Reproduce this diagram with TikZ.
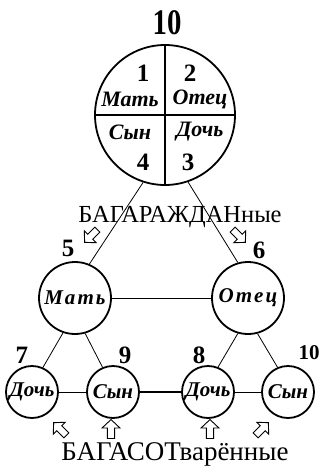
\documentclass[tikz,border=0pt]{standalone}
\usepackage{fontspec}
\setmainfont{Liberation Serif}
\begin{document}
\begin{tikzpicture}[x=1pt,y=-1pt,
  circ/.style={circle, draw, line width=1.8pt, inner sep=0pt},
  bigc/.style={circ, minimum size=140pt},
  midc/.style={circ, minimum size=72pt},
  smallc/.style={circ, minimum size=52pt},
  num/.style={font=\bfseries\fontsize{25}{25}\selectfont, inner sep=0pt},
  lab/.style={font=\bfseries\itshape\fontsize{22}{22}\selectfont, inner sep=0pt},
  slab/.style={font=\bfseries\itshape\fontsize{21}{21}\selectfont\addfontfeature{LetterSpace=10}, inner sep=0pt},
  captext/.style={font=\fontsize{24.5}{24.5}\selectfont, inner sep=0pt},
  link/.style={line width=0.8pt},
  hollow/.pic={\draw[line width=0.9pt, fill=white, line join=miter]
     (0,-9) -- (8.5,-1) -- (3.5,-1) -- (3.5,9) -- (-3.5,9) -- (-3.5,-1) -- (-8.5,-1) -- cycle;}
]
\useasboundingbox (0,0) rectangle (322,476);

% big circle
\node[bigc] (big) at (165,115) {};
\draw[line width=1.4pt] (big.north) -- (big.south);
\draw[line width=1.4pt] (big.west) -- (big.east);
\node[font=\bfseries\fontsize{36}{36}\selectfont, inner sep=0pt] (t10) at (167,23) {\scalebox{0.8}[1]{10}};
\node[num] (n1) at (143,73) {1};
\node[num] (n2) at (190,73) {2};
\node[lab] (m1) at (130,99) {Мать};
\node[lab] (o1) at (200,99) {Отец};
\node[lab] (s1) at (130,132) {Сын};
\node[lab] (d1) at (200,132) {Дочь};
\node[num] (n4) at (143,162) {4};
\node[num] (n3) at (188,162) {3};

% middle circles
\node[midc] (mat) at (75,298) {};
\node[slab] at (mat) {Мать};
\node[midc] (ot) at (248,298) {};
\node[slab] at (ot) {Отец};
\draw[link] (big.252) -- (mat.67);
\draw[link] (big.289) -- (ot.106);
\draw[link] (mat) -- (ot);
\node[captext] (bag1) at (180,217) {БАГАРАЖДАНные};
\node[num] (n5) at (68,248) {5};
\node[num] (n6) at (259,250) {6};
\pic[rotate=135] at (91,236) {hollow};
\pic[rotate=-135] at (239,236) {hollow};

% bottom circles
\node[smallc] (d2) at (32,392) {};
\node[slab, font=\bfseries\itshape\fontsize{21}{21}\selectfont] at (d2) {Дочь};
\node[smallc] (s2) at (113,392) {};
\node[slab, font=\bfseries\itshape\fontsize{21}{21}\selectfont] at (s2) {Сын};
\node[smallc] (d3) at (208,392) {};
\node[slab, font=\bfseries\itshape\fontsize{21}{21}\selectfont] at (d3) {Дочь};
\node[smallc] (s3) at (288,392) {};
\node[slab, font=\bfseries\itshape\fontsize{21}{21}\selectfont] at (s3) {Сын};
\draw[link] (mat.251) -- (d2.66);
\draw[link] (mat.286) -- (s2.113);
\draw[link] (ot.254) -- (d3.68);
\draw[link] (ot.285) -- (s3.113);
\draw[link] (d2) -- (s2);
\draw[line width=1.3pt] (s2) -- (d3);
\draw[link] (d3) -- (s3);
\node[num] (n7) at (22,355) {7};
\node[num] (n9) at (125,355) {9};
\node[num] (n8) at (199,355) {8};
\node[num, font=\bfseries\fontsize{21}{21}\selectfont] (n10) at (309,353) {10};
\pic[rotate=45] at (60,429) {hollow};
\pic[scale=1.05] at (111,429) {hollow};
\pic[scale=1.05] at (210,429) {hollow};
\pic[rotate=-45] at (262,429) {hollow};
\node[captext, font=\fontsize{27}{27}\selectfont] (bag2) at (175,454) {БАГАСОТварённые};
\end{tikzpicture}
\end{document}
